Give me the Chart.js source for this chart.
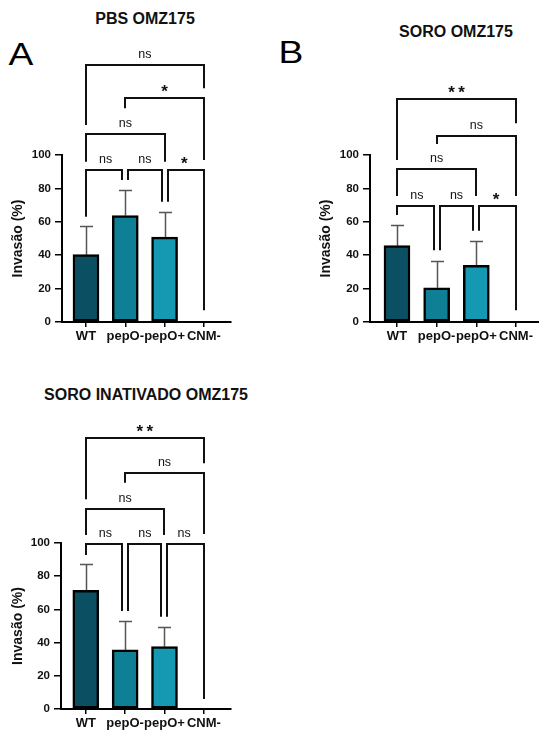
<!DOCTYPE html>
<html>
<head>
<meta charset="utf-8">
<script src="https://cdn.jsdelivr.net/npm/chart.js@4.4.0/dist/chart.umd.min.js"></script>
<style>
  body { margin: 0; background: #fff; }
  #wrap { position: relative; width: 539px; height: 733px; overflow: hidden; font-family: "Liberation Sans", Arial, sans-serif; }
  canvas { position: absolute; }
  .title { position: absolute; font-weight: bold; font-size: 16px; line-height: 16px; white-space: nowrap; transform: translateX(-50%); color: #111; }
  .letter { position: absolute; font-size: 31px; line-height: 31px; transform: translateX(-50%) scaleX(1.2); color: #000; }
</style>
</head>
<body>
<div id="wrap">
  <div class="title" style="left:145px; top:11px;">PBS OMZ175</div>
  <div class="title" style="left:456px; top:24px;">SORO OMZ175</div>
  <div class="title" style="left:146px; top:387px;">SORO INATIVADO OMZ175</div>
  <div class="letter" style="left:21px; top:39px;">A</div>
  <div class="letter" style="left:291px; top:37px;">B</div>
  <canvas id="chartA" width="270" height="345" style="left:0; top:0;"></canvas>
  <canvas id="chartB" width="269" height="345" style="left:270px; top:0;"></canvas>
  <canvas id="chartC" width="270" height="353" style="left:0; top:380px;"></canvas>
</div>
<script>
const categories = ['WT', 'pepO-', 'pepO+', 'CNM-'];
const barColors = ['#0a5062', '#0e7f94', '#1599b3'];

// PBS OMZ175
const pbsMeans = [40.3, 63.7, 50.8, 0];
const pbsSd = [17, 15.6, 15, 0];
// SORO OMZ175
const soroMeans = [45.7, 20.5, 34, 0];
const soroSd = [12.3, 16, 14.5, 0];
// SORO INATIVADO OMZ175
const inatMeans = [71.5, 35.6, 37.6, 0];
const inatSd = [16, 17.4, 12, 0];

// comparisons: [from, to, bracket height, left leg end, right leg end, label] (data units)
const pbsStats = [
  [0, 3, 154, 118, 140, 'ns'],
  [1, 3, 134, 128, 97, '*'],
  [0, 2, 112.5, 96, 96, 'ns'],
  [0, 1, 91, 63, 85, 'ns'],
  [1, 2, 91, 85, 72, 'ns'],
  [2, 3, 91, 72, 7, '*']
];
const soroStats = [
  [0, 3, 133.4, 97, 119, '**'],
  [1, 3, 111.6, 106.6, 75.4, 'ns'],
  [0, 2, 91.4, 75.4, 75.4, 'ns'],
  [0, 1, 69.6, 64, 43, 'ns'],
  [1, 2, 69.6, 43, 54.7, 'ns'],
  [2, 3, 69.6, 54.7, 7, '*']
];
const inatStats = [
  [0, 3, 163, 126.3, 148, '**'],
  [1, 3, 142, 136.3, 105.4, 'ns'],
  [0, 2, 120.5, 104.8, 104.8, 'ns'],
  [0, 1, 99.2, 92.8, 59, 'ns'],
  [1, 2, 99.2, 59, 55.6, 'ns'],
  [2, 3, 99.2, 55.6, 6, 'ns']
];

Chart.defaults.font.family = '"Liberation Sans", Arial, sans-serif';
Chart.defaults.color = '#111';

function errorBars(sd) {
  return {
    id: 'errorBars',
    beforeDatasetsDraw(chart) {
      const ctx = chart.ctx;
      const xs = chart.scales.x, ys = chart.scales.y;
      const means = chart.data.datasets[0].data;
      ctx.save();
      ctx.strokeStyle = '#555';
      ctx.lineWidth = 1.5;
      means.forEach((p, i) => {
        if (!sd[i]) return;
        const x = Math.round(xs.getPixelForValue(p.x)) + 0.5;
        const y0 = ys.getPixelForValue(p.y);
        const y1 = Math.round(ys.getPixelForValue(p.y + sd[i])) + 0.5;
        ctx.beginPath();
        ctx.moveTo(x, y0);
        ctx.lineTo(x, y1);
        ctx.moveTo(x - 6.5, y1);
        ctx.lineTo(x + 6.5, y1);
        ctx.stroke();
      });
      ctx.restore();
    }
  };
}

function brackets(stats) {
  return {
    id: 'brackets',
    afterDraw(chart) {
      const ctx = chart.ctx;
      const xs = chart.scales.x, ys = chart.scales.y;
      ctx.save();
      ctx.strokeStyle = '#111';
      ctx.fillStyle = '#111';
      ctx.lineWidth = 2;
      ctx.lineJoin = 'miter';
      stats.forEach(s => {
        const [a, b, top, endA, endB, label] = s;
        // pull a leg inward when another bracket on the same row uses that column
        const shared = col => stats.some(o => o !== s && o[2] === top && (o[0] === col || o[1] === col));
        const xa = Math.round(xs.getPixelForValue(a)) + (shared(a) ? 3 : 0);
        const xb = Math.round(xs.getPixelForValue(b)) - (shared(b) ? 3 : 0);
        const yt = Math.round(ys.getPixelForValue(top));
        ctx.beginPath();
        ctx.moveTo(xa, ys.getPixelForValue(endA));
        ctx.lineTo(xa, yt);
        ctx.lineTo(xb, yt);
        ctx.lineTo(xb, ys.getPixelForValue(endB));
        ctx.stroke();
        const xm = (xs.getPixelForValue(a) + xs.getPixelForValue(b)) / 2;
        ctx.textAlign = 'center';
        ctx.textBaseline = 'alphabetic';
        if (label === 'ns') {
          ctx.font = '12.5px "Liberation Sans", Arial, sans-serif';
          ctx.fillText(label, xm, yt - 7);
        } else {
          ctx.font = 'bold 17px "Liberation Sans", Arial, sans-serif';
          if (label.length > 1) {
            ctx.fillText('*', xm - 5, yt - 1);
            ctx.fillText('*', xm + 5, yt - 1);
          } else {
            ctx.fillText(label, xm, yt - 1);
          }
        }
      });
      ctx.restore();
    }
  };
}

function makePanel(id, means, sd, stats, box) {
  const ctx = document.getElementById(id).getContext('2d');
  return new Chart(ctx, {
    type: 'bar',
    data: {
      datasets: [{
        data: means.map((v, i) => ({ x: i, y: v })),
        backgroundColor: barColors.concat(['#ffffff']),
        borderColor: '#000',
        borderWidth: 2.5,
        borderSkipped: false,
        barThickness: 26
      }]
    },
    options: {
      responsive: false,
      animation: false,
      devicePixelRatio: 1,
      layout: { padding: { top: box.top, right: box.right, left: 0, bottom: 0 } },
      plugins: { legend: { display: false }, tooltip: { enabled: false } },
      scales: {
        x: {
          type: 'linear',
          offset: false,
          min: box.xmin,
          max: box.xmax,
          afterBuildTicks: s => { s.ticks = categories.map((c, i) => ({ value: i })); },
          afterFit: s => { s.height = box.xh; },
          grid: { display: true, offset: false, drawOnChartArea: false, drawTicks: true, tickLength: 5, color: '#000', lineWidth: 1.5 },
          border: { display: true, color: '#000', width: 2 },
          ticks: {
            autoSkip: false,
            maxRotation: 0,
            padding: 2,
            color: '#111',
            font: { size: 13, weight: 'bold' },
            callback: v => categories[v]
          }
        },
        y: {
          min: 0,
          max: 100,
          afterFit: s => { s.width = box.left; },
          grid: { display: true, drawOnChartArea: false, drawTicks: true, tickLength: 7, color: '#000', lineWidth: 1.5 },
          border: { display: true, color: '#000', width: 2 },
          ticks: { stepSize: 20, padding: 4, color: '#111', font: { size: 11.5, weight: 'bold' } },
          title: {
            display: true,
            text: 'Invasão (%)',
            color: '#111',
            font: { size: 14, weight: 'bold' },
            padding: { top: box.titlePad, bottom: 0 }
          }
        }
      }
    },
    plugins: [errorBars(sd), brackets(stats)]
  });
}

makePanel('chartA', pbsMeans, pbsSd, pbsStats,
  { top: 155, right: 39, left: 62, xh: 23, xmin: -0.61, xmax: 3.69, titlePad: 10 });
makePanel('chartB', soroMeans, soroSd, soroStats,
  { top: 155, right: 0, left: 100, xh: 23, xmin: -0.68, xmax: 3.58, titlePad: 48 });
makePanel('chartC', inatMeans, inatSd, inatStats,
  { top: 163, right: 39, left: 61, xh: 24, xmin: -0.63, xmax: 3.69, titlePad: 10 });
</script>
</body>
</html>
